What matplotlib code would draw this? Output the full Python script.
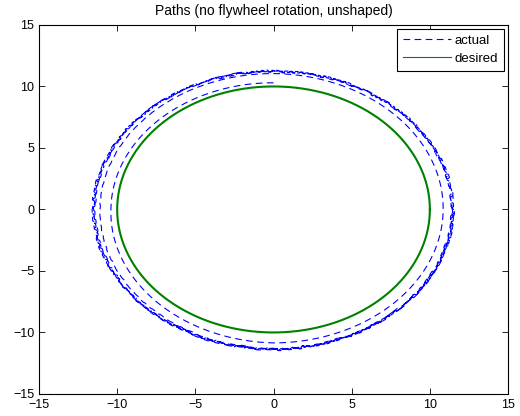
import numpy as np
import matplotlib
matplotlib.use('Agg')
import matplotlib.pyplot as plt

plt.rcParams['font.family'] = ['Liberation Sans', 'DejaVu Sans']

# reference path: circle of radius 10
desired_radius = 10.0

# measured path, radius read every quarter turn (angle in degrees, start at top)
knot_angle = [90, 180, 270, 360, 450, 540, 630, 720, 810, 900, 990, 1080,
              1170, 1260, 1350, 1440, 1530, 1620, 1710, 1800]
knot_rx = [10.30, 10.40, 10.80, 10.85, 11.00, 11.10, 11.30, 11.40, 11.35, 11.50,
           11.40, 11.45, 11.30, 11.55, 11.40, 11.50, 11.35, 11.45, 11.40, 11.50]
knot_ry = [10.30, 10.35, 10.85, 10.80, 11.05, 11.10, 11.35, 11.30, 11.25, 11.35,
           11.40, 11.30, 11.20, 11.40, 11.35, 11.30, 11.25, 11.40, 11.30, 11.35]

# small tracking wobble on the measured path
wobble = [0.00, 0.06, -0.04, 0.08, -0.02, 0.05, -0.07, 0.03, 0.07, -0.05,
          0.02, -0.08, 0.04, 0.06, -0.03, 0.01, -0.06, 0.08, -0.01, 0.05,
          -0.04, 0.07, -0.07, 0.02, 0.05, -0.02, 0.06, -0.05, 0.03, -0.08]

ang = np.linspace(knot_angle[0], knot_angle[-1], 4000)
rx = np.interp(ang, knot_angle, knot_rx)
ry = np.interp(ang, knot_angle, knot_ry)
w = np.resize(np.repeat(wobble, 4), ang.size)
w = w * np.clip((ang - 450) / 360.0, 0, 1)
actual_x = (rx + w) * np.cos(np.radians(ang))
actual_y = (ry + w) * np.sin(np.radians(ang))

t = np.linspace(0, 2 * np.pi, 600)
desired_x = desired_radius * np.cos(t)
desired_y = desired_radius * np.sin(t)

fig = plt.figure(figsize=(5.2, 4.16), dpi=100)
ax = fig.add_axes([0.075, 0.053, 0.902, 0.887])

ax.plot(actual_x, actual_y, '--', color=(0, 0, 1), lw=0.8, dashes=(6, 4), label='actual')
ax.plot(desired_x, desired_y, '-', color=(0, 0.5, 0), lw=1.5, label='desired')

ax.set_xlim(-15, 15)
ax.set_ylim(-15, 15)
ax.set_xticks(np.arange(-15, 16, 5))
ax.set_yticks(np.arange(-15, 16, 5))
ax.tick_params(direction='in', top=True, right=True, labelsize=9, length=4, width=0.6)
for s in ax.spines.values():
    s.set_linewidth(0.8)

ax.set_title('Paths (no flywheel rotation, unshaped)', fontsize=10, pad=7)

leg = ax.legend(loc='upper right', fontsize=9.5, fancybox=False, framealpha=1,
                edgecolor='black', borderaxespad=0.3, handlelength=3.6,
                labelspacing=0.4, borderpad=0.45, handletextpad=0.3)
leg.get_frame().set_linewidth(0.8)
leg.get_lines()[1].set_linewidth(0.8)

plt.savefig('out.png', dpi=100)
